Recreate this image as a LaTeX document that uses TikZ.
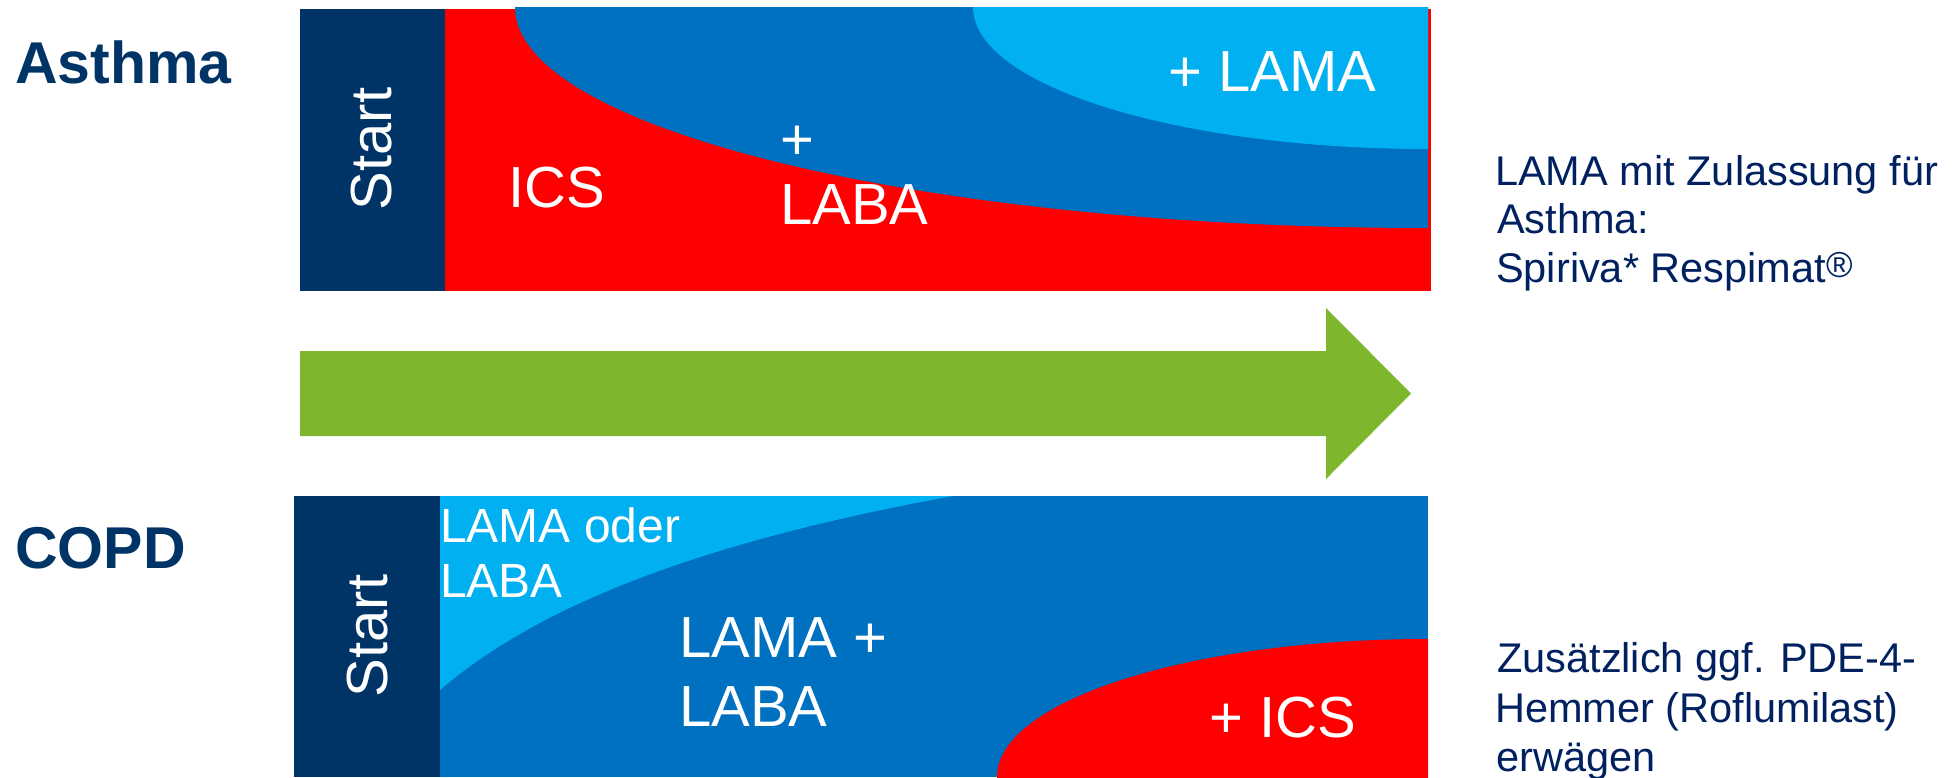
\documentclass[tikz,border=0pt]{standalone}
\usepackage{fontspec}
\setmainfont{Liberation Sans}
\definecolor{navy}{HTML}{003366}
\definecolor{txtnavy}{HTML}{002060}
\definecolor{redA}{HTML}{FF0000}
\definecolor{blueA}{HTML}{0070C0}
\definecolor{lblue}{HTML}{00B0F0}
\definecolor{greenA}{HTML}{7EB62D}
\begin{document}
\begin{tikzpicture}[x=1pt,y=-1pt,
  big/.style={inner sep=0pt, anchor=base west, text=white, font=\fontsize{58}{60}\selectfont},
  mid/.style={inner sep=0pt, anchor=base west, text=white, font=\fontsize{48}{50}\selectfont},
  note/.style={inner sep=0pt, anchor=base west, text=txtnavy, font=\fontsize{41.5}{45}\selectfont},
  head/.style={inner sep=0pt, anchor=base west, text=navy, font=\fontsize{59}{60}\selectfont\bfseries},
  starttxt/.style={inner sep=0pt, rotate=90, text=white, font=\fontsize{58}{60}\selectfont}]
\useasboundingbox (0,0) rectangle (1959,777);
\clip (0,0) rectangle (1959,777);

% ---------- Asthma panel ----------
\fill[navy] (300,9) rectangle (445,291);
\fill[redA] (445,9) rectangle (1431,291);
\begin{scope}
  \clip (445,7) rectangle (1428,291);
  \fill[blueA] (1428,7) ellipse [x radius=913, y radius=221];
  \fill[lblue] (1428,7) ellipse [x radius=455, y radius=142];
\end{scope}

% ---------- green arrow ----------
\fill[greenA] (300,351) -- (1326,351) -- (1326,308) -- (1411,393.5)
  -- (1326,479) -- (1326,436) -- (300,436) -- cycle;

% ---------- COPD panel ----------
\fill[navy] (294,496) rectangle (440,777);
\fill[blueA] (440,496) rectangle (1428,777);
\fill[lblue] (440,496) -- (953,496) .. controls (733,536) and (550,595) .. (440,690) -- cycle;
\begin{scope}
  \clip (440,496) rectangle (1428,777);
  \fill[redA] (1428,777) ellipse [x radius=431, y radius=138];
\end{scope}

% ---------- labels ----------
\node[head] (asthma) at (15,83) {Asthma};
\node[head] (copd) at (15,568) {COPD};

\node[starttxt] (start1) at (372,149) {Start};
\node[starttxt] (start2) at (368,636) {Start};

\node[big] (ics) at (508,207) {ICS};
\node[big] (plus) at (780,159) {+};
\node[big] (laba1) at (780,224) {LABA};
\node[big] (lama1) at (1168,91) {+ LAMA};

\node[mid] (lamaoder) at (440,542) {LAMA oder};
\node[mid] (laba2) at (440,597) {LABA};
\node[big] (lamaplus) at (679,657) {LAMA +};
\node[big] (laba3) at (679,726) {LABA};
\node[big] (ics2) at (1209,737) {+ ICS};

% ---------- notes ----------
\node[note] (n1) at (1495,185) {LAMA mit Zulassung für};
\node[note] (n2) at (1497,233) {Asthma:};
\node[note] (n3) at (1496,282) {Spiriva* Respimat\raisebox{5pt}{\fontsize{36}{36}\selectfont ®}};

\node[note] (m1) at (1497,672) {Zusätzlich ggf. PDE-4-};
\node[note] (m2) at (1495,722) {Hemmer (Roflumilast)};
\node[note] (m3) at (1496,771) {erwägen};
\end{tikzpicture}
\end{document}
